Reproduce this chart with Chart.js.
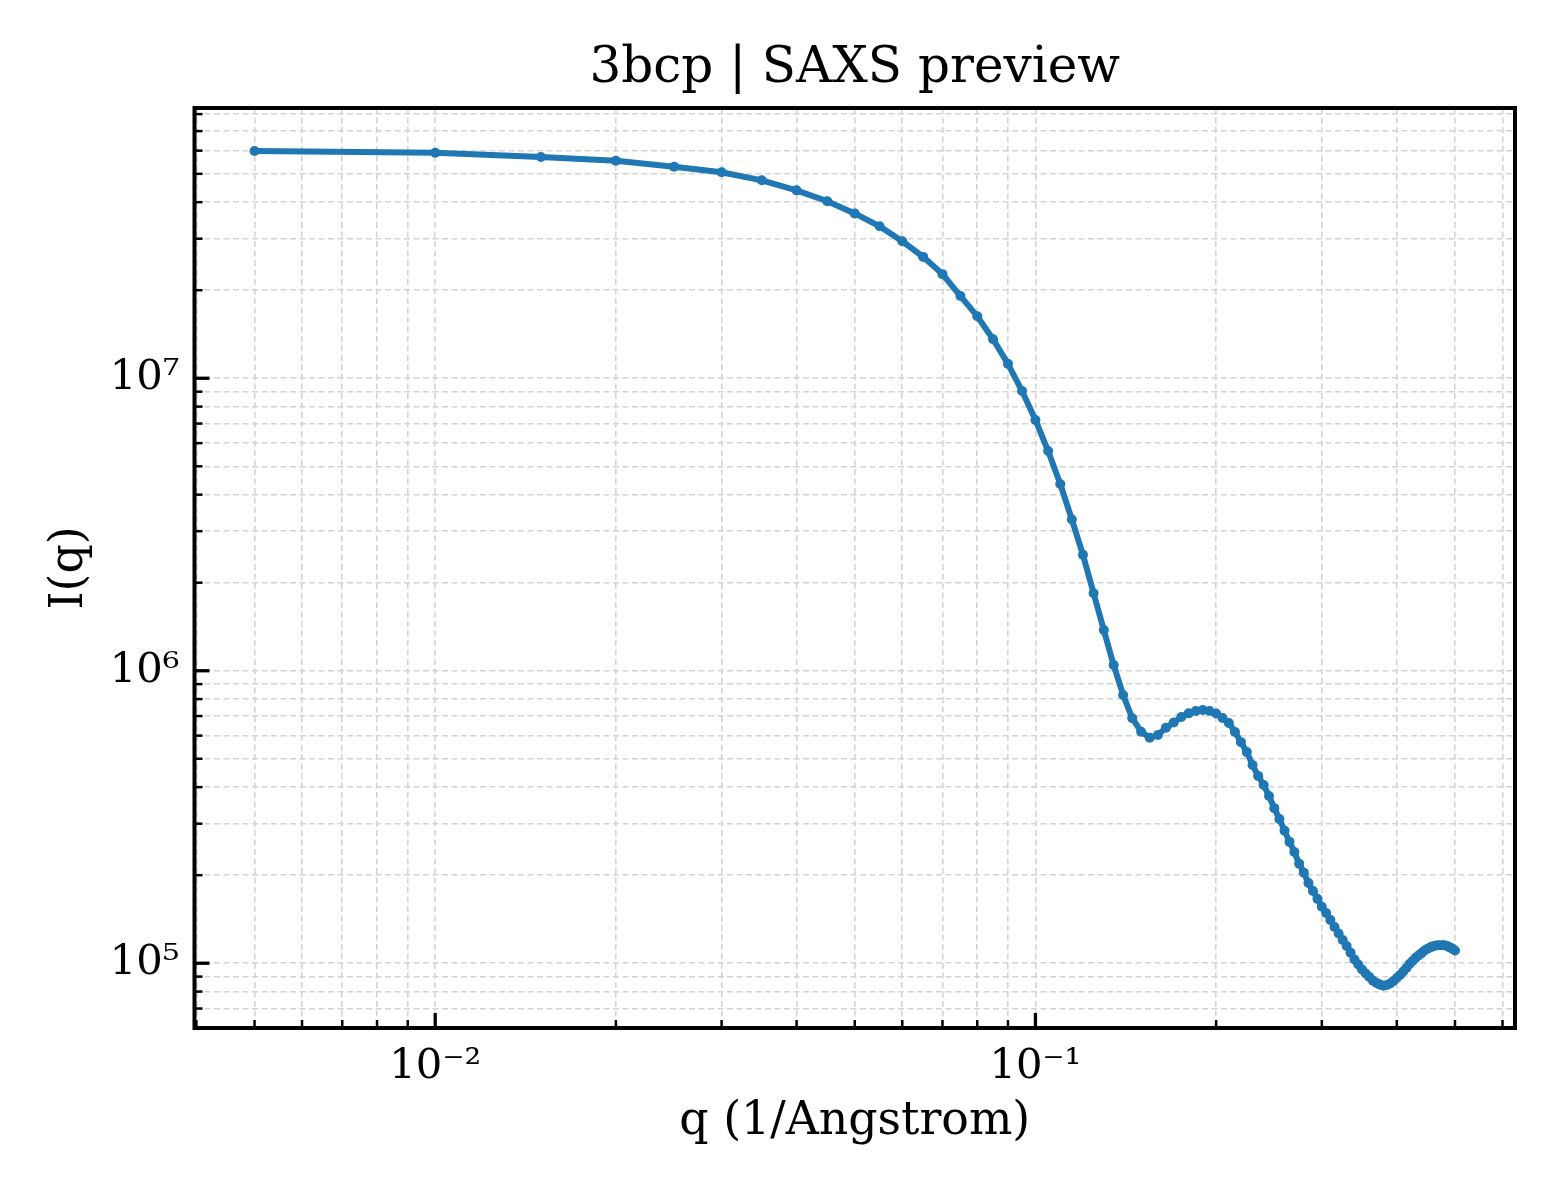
<!DOCTYPE html>
<html>
<head>
<meta charset="utf-8">
<script src="https://cdn.jsdelivr.net/npm/chart.js@4.4.1/dist/chart.umd.min.js"></script>
<style>
  html, body { margin: 0; padding: 0; background: #fff; }
  #wrap { width: 1560px; height: 1200px; }
</style>
</head>
<body>
<div id="wrap"><canvas id="saxsChart" width="1560" height="1200"></canvas></div>
<script>
// SAXS プロファイル (q, I(q))
const qValues = [
    0.005, 0.010, 0.015, 0.020, 0.025, 0.030, 0.035, 0.040, 0.045, 0.050,
    0.055, 0.060, 0.065, 0.070, 0.075, 0.080, 0.085, 0.090, 0.095, 0.100,
    0.105, 0.110, 0.115, 0.120, 0.125, 0.130, 0.135, 0.140, 0.145, 0.150,
    0.155, 0.160, 0.165, 0.170, 0.175, 0.180, 0.185, 0.190, 0.195, 0.200,
    0.205, 0.210, 0.215, 0.220, 0.225, 0.230, 0.235, 0.240, 0.245, 0.250,
    0.255, 0.260, 0.265, 0.270, 0.275, 0.280, 0.285, 0.290, 0.295, 0.300,
    0.305, 0.310, 0.315, 0.320, 0.325, 0.330, 0.335, 0.340, 0.345, 0.350,
    0.355, 0.360, 0.365, 0.370, 0.375, 0.380, 0.385, 0.390, 0.395, 0.400,
    0.405, 0.410, 0.415, 0.420, 0.425, 0.430, 0.435, 0.440, 0.445, 0.450,
    0.455, 0.460, 0.465, 0.470, 0.475, 0.480, 0.485, 0.490, 0.495, 0.500
]
const intensity = [
    5.98e7, 5.90e7, 5.71e7, 5.54e7, 5.29e7, 5.06e7, 4.75e7, 4.39e7, 4.03e7, 3.66e7,
    3.31e7, 2.94e7, 2.60e7, 2.27e7, 1.91e7, 1.63e7, 1.36e7, 1.12e7, 9.04e6, 7.20e6,
    5.64e6, 4.35e6, 3.29e6, 2.49e6, 1.84e6, 1.377e6, 1.046e6, 8.26e5, 6.88e5, 6.19e5,
    5.90e5, 6.03e5, 6.39e5, 6.65e5, 6.95e5, 7.15e5, 7.28e5, 7.34e5, 7.28e5, 7.14e5,
    6.89e5, 6.63e5, 6.17e5, 5.70e5, 5.27e5, 4.76e5, 4.37e5, 4.07e5, 3.73e5, 3.39e5,
    3.11e5, 2.84e5, 2.60e5, 2.40e5, 2.19e5, 2.04e5, 1.88e5, 1.765e5, 1.66e5, 1.56e5,
    1.485e5, 1.405e5, 1.33e5, 1.263e5, 1.20e5, 1.145e5, 1.086e5, 1.03e5, 9.90e4, 9.52e4,
    9.22e4, 8.97e4, 8.71e4, 8.56e4, 8.45e4, 8.38e4, 8.42e4, 8.52e4, 8.69e4, 8.90e4,
    9.12e4, 9.37e4, 9.63e4, 9.94e4, 1.017e5, 1.044e5, 1.064e5, 1.083e5, 1.105e5, 1.12e5,
    1.133e5, 1.144e5, 1.149e5, 1.152e5, 1.153e5, 1.151e5, 1.145e5, 1.133e5, 1.122e5, 1.105e5
]

// 目盛りラベル
const xMajorTicks = [0.01, 0.1]
const xMajorLabels = ['10⁻²', '10⁻¹']
const yMajorTicks = [1e5, 1e6, 1e7]
const yMajorLabels = ['10⁵', '10⁶', '10⁷']

const FONT = 'DejaVu Serif'

// 1..9 × 10^n の目盛り位置
function logTicks(min, max) {
    const out = []
    for (let e = Math.floor(Math.log10(min)); e <= Math.ceil(Math.log10(max)); e++) {
        for (let m = 1; m <= 9; m++) {
            const v = m * Math.pow(10, e)
            if (v >= min && v <= max) out.push(v)
        }
    }
    return out
}

function majorIndex(value, majors) {
    return majors.findIndex(m => Math.abs(value / m - 1) < 1e-6)
}

// 枠線と内向きの目盛り線
const axisFrame = {
    id: 'axisFrame',
    afterDatasetsDraw(chart) {
        const { ctx, chartArea: a, scales: { x, y } } = chart
        ctx.save()
        ctx.strokeStyle = '#000'
        ctx.lineCap = 'butt'
        x.ticks.forEach(t => {
            const major = majorIndex(t.value, xMajorTicks) >= 0
            const px = x.getPixelForValue(t.value)
            ctx.lineWidth = major ? 3.3 : 2.5
            ctx.beginPath()
            ctx.moveTo(px, a.bottom)
            ctx.lineTo(px, a.bottom - (major ? 15 : 8))
            ctx.stroke()
        })
        y.ticks.forEach(t => {
            const major = majorIndex(t.value, yMajorTicks) >= 0
            const py = y.getPixelForValue(t.value)
            ctx.lineWidth = major ? 3.3 : 2.5
            ctx.beginPath()
            ctx.moveTo(a.left, py)
            ctx.lineTo(a.left + (major ? 15 : 8), py)
            ctx.stroke()
        })
        ctx.lineWidth = 4
        ctx.strokeRect(a.left, a.top, a.right - a.left, a.bottom - a.top)
        ctx.restore()
    }
}

const points = qValues.map((q, i) => ({ x: q, y: intensity[i] }))

const ctx = document.getElementById('saxsChart').getContext('2d')
new Chart(ctx, {
    type: 'line',
    data: {
        datasets: [{
            data: points,
            borderColor: '#1f77b4',
            backgroundColor: '#1f77b4',
            borderWidth: 6,
            pointRadius: 5,
            pointBorderWidth: 0,
            tension: 0
        }]
    },
    options: {
        responsive: false,
        animation: false,
        devicePixelRatio: 1,
        layout: { padding: { left: 0, right: 45, top: 0, bottom: 0 } },
        plugins: {
            legend: { display: false },
            tooltip: { enabled: false },
            title: {
                display: true,
                fullSize: false,
                text: '3bcp | SAXS preview',
                color: '#000',
                font: { family: FONT, size: 50, weight: 'normal' },
                padding: { top: 39, bottom: 9 }
            }
        },
        scales: {
            x: {
                type: 'logarithmic',
                min: 0.0039716,
                max: 0.62946,
                afterBuildTicks: s => { s.ticks = logTicks(s.min, s.max).map(v => ({ value: v })) },
                afterFit: s => { s.height = 172 },
                ticks: {
                    autoSkip: false,
                    maxRotation: 0,
                    padding: 14,
                    color: '#000',
                    font: { family: FONT, size: 41.7 },
                    callback: v => {
                        const i = majorIndex(v, xMajorTicks)
                        return i >= 0 ? xMajorLabels[i] : ''
                    }
                },
                grid: { color: '#d4d4d4', lineWidth: 1.6, drawTicks: false },
                border: { display: false, dash: [6, 3.5] },
                title: {
                    display: true,
                    text: 'q (1/Angstrom)',
                    color: '#000',
                    font: { family: FONT, size: 45.8 },
                    padding: { top: 0, bottom: 50 }
                }
            },
            y: {
                type: 'logarithmic',
                min: 60050,
                max: 8.395e7,
                afterBuildTicks: s => { s.ticks = logTicks(s.min, s.max).map(v => ({ value: v })) },
                afterFit: s => { s.width = 194.5 },
                ticks: {
                    autoSkip: false,
                    padding: 15,
                    color: '#000',
                    font: { family: FONT, size: 41.7 },
                    callback: v => {
                        const i = majorIndex(v, yMajorTicks)
                        return i >= 0 ? yMajorLabels[i] : ''
                    }
                },
                grid: { color: '#d4d4d4', lineWidth: 1.6, drawTicks: false },
                border: { display: false, dash: [6, 3.5] },
                title: {
                    display: true,
                    text: 'I(q)',
                    color: '#000',
                    font: { family: FONT, size: 45.8 },
                    padding: { top: 43, bottom: 0 }
                }
            }
        }
    },
    plugins: [axisFrame]
})
</script>
</body>
</html>
